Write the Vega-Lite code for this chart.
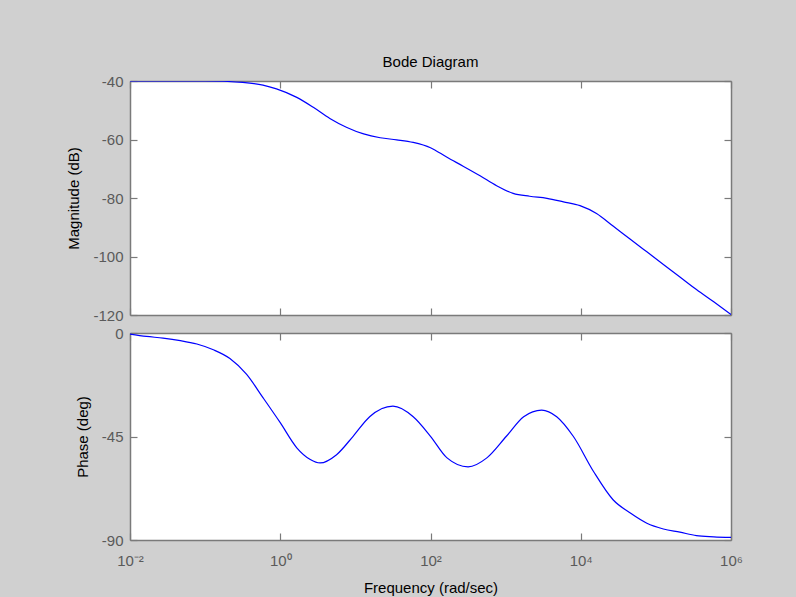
{
  "$schema": "https://vega.github.io/schema/vega-lite/v6.json",
  "background": "#d0d0d0",
  "padding": {"left": 66, "top": 55, "right": 80, "bottom": 30},
  "bounds": "flush",
  "spacing": 18,
  "datasets": {
    "mag": [
      {"f": 0.01, "v": -40.0}, {"f": 0.1, "v": -40.0}, {"f": 0.3162, "v": -40.5},
      {"f": 0.5888, "v": -41.4}, {"f": 0.8913, "v": -42.7}, {"f": 1.6596, "v": -45.6},
      {"f": 2.7542, "v": -49.0}, {"f": 4.5709, "v": -52.8}, {"f": 7.5858, "v": -55.8},
      {"f": 12.882, "v": -58.1}, {"f": 21.380, "v": -59.4}, {"f": 35.481, "v": -60.1},
      {"f": 58.884, "v": -61.0}, {"f": 100, "v": -62.8}, {"f": 165.96, "v": -66.1},
      {"f": 275.42, "v": -69.2}, {"f": 457.09, "v": -72.4}, {"f": 758.58, "v": -75.8},
      {"f": 1258.9, "v": -78.4}, {"f": 2089.3, "v": -79.4}, {"f": 3548.1, "v": -80.1},
      {"f": 5888.4, "v": -81.3}, {"f": 9772.4, "v": -82.6}, {"f": 16218, "v": -85.3},
      {"f": 26915, "v": -89.6}, {"f": 45709, "v": -94.1}, {"f": 75858, "v": -98.4},
      {"f": 125893, "v": -102.7}, {"f": 208930, "v": -107.0}, {"f": 346737, "v": -111.3},
      {"f": 588844, "v": -115.5}, {"f": 1000000, "v": -119.8}
    ],
    "phase": [
      {"f": 0.01, "v": -0.5}, {"f": 0.016596, "v": -1.5}, {"f": 0.027542, "v": -2.2},
      {"f": 0.046774, "v": -3.3}, {"f": 0.077625, "v": -4.8}, {"f": 0.12882, "v": -7.3},
      {"f": 0.21380, "v": -11.1}, {"f": 0.35481, "v": -17.9}, {"f": 0.58884, "v": -28.1},
      {"f": 1, "v": -39.0}, {"f": 1.6596, "v": -49.9}, {"f": 2.5119, "v": -55.0},
      {"f": 3.3884, "v": -56.5}, {"f": 5.6234, "v": -52.9}, {"f": 9.3325, "v": -44.9},
      {"f": 15.488, "v": -36.4}, {"f": 31.623, "v": -31.8}, {"f": 58.884, "v": -36.4},
      {"f": 100, "v": -44.9}, {"f": 165.96, "v": -54.3}, {"f": 316.23, "v": -58.2},
      {"f": 562.34, "v": -54.3}, {"f": 1023.3, "v": -44.9}, {"f": 1737.8, "v": -36.4},
      {"f": 3020.0, "v": -33.5}, {"f": 4786.3, "v": -36.4}, {"f": 7943.3, "v": -44.9},
      {"f": 14791, "v": -60.2}, {"f": 26915, "v": -72.5}, {"f": 45709, "v": -78.3},
      {"f": 75858, "v": -82.7}, {"f": 125893, "v": -85.2}, {"f": 208930, "v": -86.6},
      {"f": 346737, "v": -88.1}, {"f": 588844, "v": -88.6}, {"f": 1000000, "v": -88.9}
    ]
  },
  "config": {
    "font": "Liberation Sans",
    "view": {"stroke": null, "fill": "white"},
    "axis": {
      "grid": false,
      "domainColor": "#7a7a7a",
      "domainWidth": 1.5,
      "tickColor": "#7a7a7a",
      "tickWidth": 1.2,
      "tickSize": -7,
      "labelFont": "Liberation Sans",
      "labelFontSize": 15,
      "labelColor": "#5a5a5a",
      "labelPadding": 14,
      "labelFlush": false,
      "labelOverlap": false,
      "titleFont": "Liberation Sans",
      "titleFontSize": 15,
      "titleFontWeight": "normal",
      "titleColor": "black"
    }
  },
  "vconcat": [
    {
      "width": 601,
      "height": 234,
      "title": {"text": "Bode Diagram", "font": "Liberation Sans", "fontSize": 15, "fontWeight": "normal", "color": "black", "offset": 4},
      "data": {"name": "mag"},
      "layer": [
        {
          "mark": {"type": "line", "color": "#0000ff", "strokeWidth": 1.2, "interpolate": "monotone", "clip": true},
          "encoding": {
            "x": {"field": "f", "type": "quantitative", "scale": {"type": "log", "domain": [0.01, 1000000], "nice": false},
                  "axis": {"orient": "bottom", "values": [0.01, 1, 100, 10000, 1000000], "labels": false, "title": null}},
            "y": {"field": "v", "type": "quantitative", "scale": {"domain": [-120, -40], "nice": false, "zero": false},
                  "axis": {"orient": "left", "values": [-120, -100, -80, -60, -40], "title": "Magnitude (dB)", "titlePadding": 11,
                           "labelExpr": "replace(datum.label, '−', '-')"}}
          }
        },
        {
          "mark": {"type": "line", "opacity": 0},
          "encoding": {
            "x": {"field": "f", "type": "quantitative", "axis": {"orient": "top", "values": [0.01, 1, 100, 10000, 1000000], "labels": false, "title": null}},
            "y": {"field": "v", "type": "quantitative", "axis": {"orient": "right", "values": [-120, -100, -80, -60, -40], "labels": false, "title": null}}
          }
        }
      ],
      "resolve": {"axis": {"x": "independent", "y": "independent"}}
    },
    {
      "width": 601,
      "height": 207,
      "data": {"name": "phase"},
      "layer": [
        {
          "mark": {"type": "line", "color": "#0000ff", "strokeWidth": 1.2, "interpolate": "monotone", "clip": true},
          "encoding": {
            "x": {"field": "f", "type": "quantitative", "scale": {"type": "log", "domain": [0.01, 1000000], "nice": false},
                  "axis": {"orient": "bottom", "values": [0.01, 1, 100, 10000, 1000000], "title": "Frequency  (rad/sec)", "labelPadding": 20, "titlePadding": 12,
                           "labelExpr": "datum.value < 0.1 ? '10⁻²' : datum.value < 10 ? '10⁰' : datum.value < 1000 ? '10²' : datum.value < 100000 ? '10⁴' : '10⁶'"}},
            "y": {"field": "v", "type": "quantitative", "scale": {"domain": [-90, 0], "nice": false, "zero": false},
                  "axis": {"orient": "left", "values": [-90, -45, 0], "title": "Phase (deg)", "titlePadding": 11,
                           "labelExpr": "replace(datum.label, '−', '-')"}}
          }
        },
        {
          "mark": {"type": "line", "opacity": 0},
          "encoding": {
            "x": {"field": "f", "type": "quantitative", "axis": {"orient": "top", "values": [0.01, 1, 100, 10000, 1000000], "labels": false, "title": null}},
            "y": {"field": "v", "type": "quantitative", "axis": {"orient": "right", "values": [-90, -45, 0], "labels": false, "title": null}}
          }
        }
      ],
      "resolve": {"axis": {"x": "independent", "y": "independent"}}
    }
  ]
}
